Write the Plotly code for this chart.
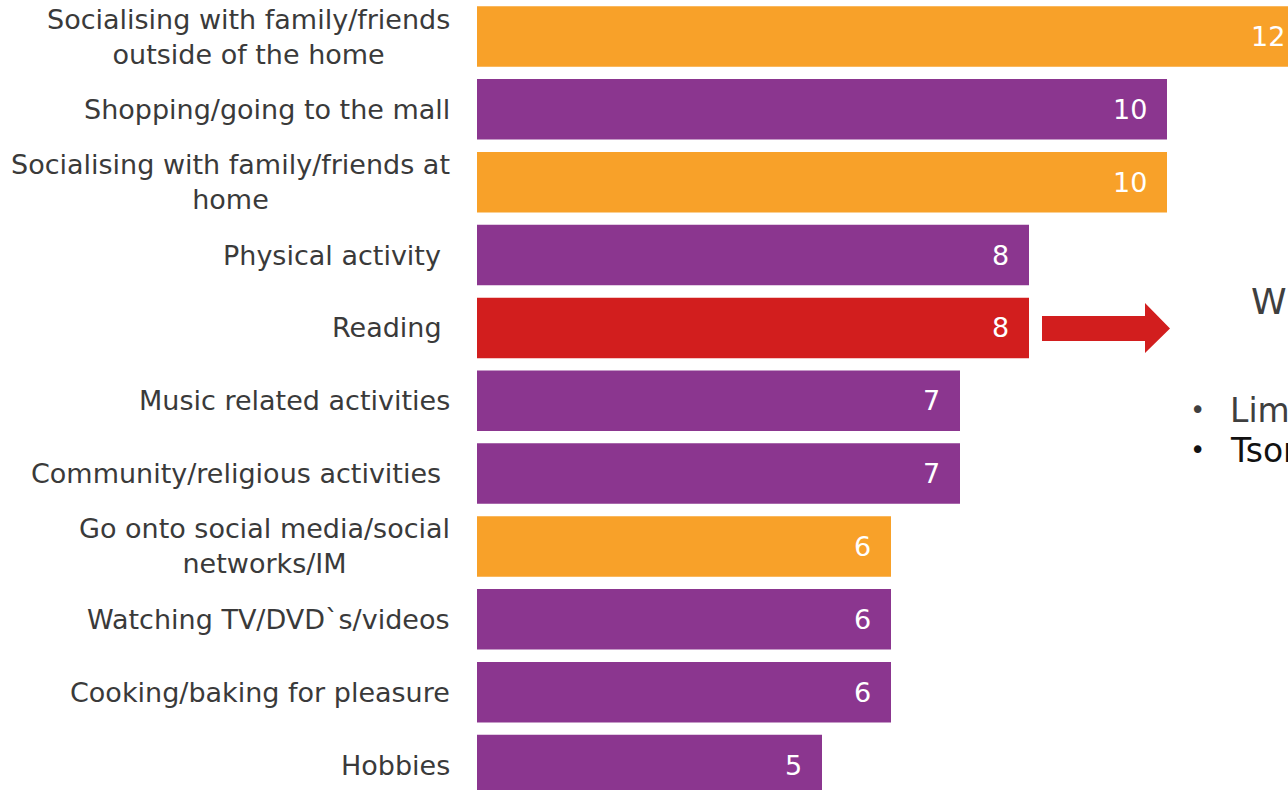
import plotly.graph_objects as go

# Leisure activities, ranked
activities = [
    "Socialising with family/friends<br>outside of the home",
    "Shopping/going to the mall",
    "Socialising with family/friends at<br>home",
    "Physical activity\u00a0",
    "Reading\u00a0",
    "Music related activities",
    "Community/religious activities\u00a0",
    "Go onto social media/social<br>networks/IM",
    "Watching TV/DVD`s/videos",
    "Cooking/baking for pleasure",
    "Hobbies",
]
values = [12, 10, 10, 8, 8, 7, 7, 6, 6, 6, 5]
groups = ["social", "other", "social", "other", "highlight", "other",
          "other", "social", "other", "other", "other"]

side_heading = "W"
side_points = ["Limp", "Tson"]

ORANGE = "#F8A129"
PURPLE = "#8B368F"
RED = "#D21E1E"
palette = {"social": ORANGE, "other": PURPLE, "highlight": RED}
colors = [palette[g] for g in groups]

W, H = 1288, 790
L_MARGIN = 477
UNIT = 69.0          # pixels per unit on the value axis
PITCH = 72.85        # pixels between bar centres
FIRST = 36.5         # centre of the first bar from the top

positions = list(range(len(values)))
x_max = (W - L_MARGIN) / UNIT
y_top = -FIRST / PITCH
y_bottom = (H - FIRST) / PITCH

FONT = "DejaVu Sans"
TEXT = "#3A3A3A"

fig = go.Figure()
fig.add_trace(go.Bar(
    x=values,
    y=positions,
    orientation="h",
    width=0.83,
    marker=dict(color=colors, line=dict(width=0)),
    hoverinfo="skip",
))


def px_x(px):
    return (px - L_MARGIN) / (W - L_MARGIN)


def px_y(py):
    return 1 - py / H


annotations = []
# category labels, right-aligned against the bars, centred across lines
for pos, label in zip(positions, activities):
    annotations.append(dict(
        x=0, y=pos, xref="x", yref="y", text=label,
        xanchor="right", yanchor="middle", align="center",
        xshift=-25, showarrow=False,
        font=dict(family=FONT, size=27, color=TEXT),
    ))
# value labels inside the end of each bar; placed in paper units so that
# labels of bars running past the right edge are still drawn
for pos, v in zip(positions, values):
    annotations.append(dict(
        x=v / x_max, y=pos, xref="paper", yref="y", text=str(v),
        xanchor="right", yanchor="middle",
        xshift=-18, showarrow=False,
        font=dict(family=FONT, size=27, color="white"),
    ))

# side panel text
annotations.append(dict(
    x=px_x(1249), y=px_y(301), xref="paper", yref="paper",
    text=side_heading, xanchor="left", yanchor="middle", showarrow=False,
    font=dict(family=FONT, size=36, color="#3F3F3F"),
))
for i, (pt, col) in enumerate(zip(side_points, ["#3F3F3F", "#111111"])):
    yc = 410 + 40 * i
    annotations.append(dict(
        x=px_x(1197), y=px_y(yc), xref="paper", yref="paper",
        text="\u2022", xanchor="center", yanchor="middle", showarrow=False,
        font=dict(family=FONT, size=26, color=col),
    ))
    annotations.append(dict(
        x=px_x(1228), y=px_y(yc), xref="paper", yref="paper",
        text=pt, xanchor="left", yanchor="middle", showarrow=False,
        font=dict(family=FONT, size=33, color=col),
    ))

# block arrow pointing from the highlighted bar to the side panel
ax0, ax1, ax2 = px_x(1042), px_x(1145), px_x(1170)
ay_top, ay_bot = px_y(316), px_y(341)
ah_top, ah_bot, ay_mid = px_y(303), px_y(353), px_y(328.5)
arrow_path = (
    f"M {ax0} {ay_top} L {ax1} {ay_top} L {ax1} {ah_top} L {ax2} {ay_mid} "
    f"L {ax1} {ah_bot} L {ax1} {ay_bot} L {ax0} {ay_bot} Z"
)

fig.update_layout(
    width=W, height=H,
    margin=dict(l=L_MARGIN, r=0, t=0, b=0),
    paper_bgcolor="white", plot_bgcolor="white",
    showlegend=False,
    bargap=0.17,
    xaxis=dict(range=[0, x_max], visible=False, fixedrange=True),
    yaxis=dict(range=[y_bottom, y_top], visible=False, fixedrange=True),
    annotations=annotations,
    shapes=[dict(type="path", path=arrow_path, xref="paper", yref="paper",
                 fillcolor=RED, line=dict(width=0))],
)

fig.write_html("out.html", config={"displayModeBar": False})
